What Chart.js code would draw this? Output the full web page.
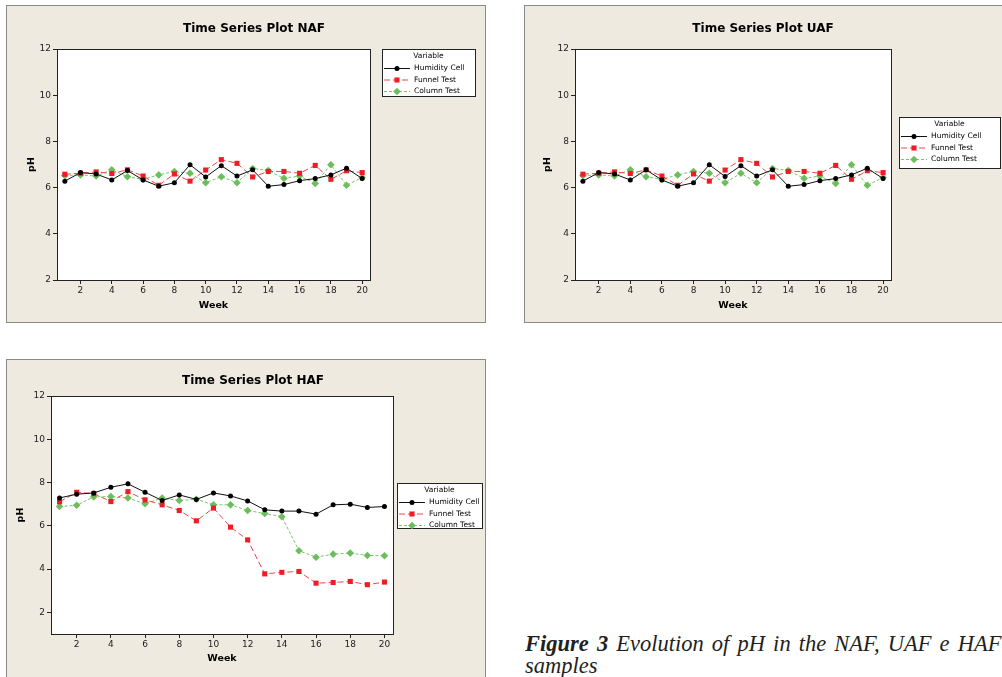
<!DOCTYPE html>
<html>
<head>
<meta charset="utf-8">
<title>Evolution of pH in the NAF, UAF and HAF samples</title>
<script src="https://cdn.jsdelivr.net/npm/chart.js@4.4.1/dist/chart.umd.min.js"></script>
<style>
  html, body { margin: 0; padding: 0; background: #fff; width: 1002px; height: 677px; overflow: hidden; position: relative; }
  canvas.panel { position: absolute; display: block; }
  #caption {
    position: absolute; left: 525px; top: 633px; width: 502px;
    font-family: "Liberation Serif", "DejaVu Serif", serif; font-style: italic;
    font-size: 22.5px; line-height: 22px; word-spacing: 2.5px; color: #231f20;
  }
  #caption b { font-weight: bold; }
</style>
</head>
<body>
<canvas id="naf" class="panel" width="480" height="318" style="left:6px;top:5px"></canvas>
<canvas id="uaf" class="panel" width="480" height="318" style="left:524px;top:5px"></canvas>
<canvas id="haf" class="panel" width="480" height="320" style="left:6px;top:359px"></canvas>
<div id="caption"><b>Figure 3</b> Evolution of pH in the NAF, UAF e HAF samples</div>

<script>
// Weeks on the x axis
const WEEKS = [1, 2, 3, 4, 5, 6, 7, 8, 9, 10, 11, 12, 13, 14, 15, 16, 17, 18, 19, 20];
const X_TICKS = [2, 4, 6, 8, 10, 12, 14, 16, 18, 20];
const Y_TICKS = [2, 4, 6, 8, 10, 12];
const SERIES_NAMES = ['Humidity Cell', 'Funnel Test', 'Column Test'];

// NAF
const NAF_HUMIDITY = [6.28, 6.65, 6.59, 6.33, 6.74, 6.33, 6.06, 6.21, 6.99, 6.46, 6.95, 6.50, 6.77, 6.06, 6.13, 6.30, 6.39, 6.55, 6.84, 6.39];
const NAF_FUNNEL = [6.58, 6.62, 6.68, 6.61, 6.77, 6.50, 6.10, 6.59, 6.28, 6.76, 7.21, 7.05, 6.46, 6.70, 6.70, 6.62, 6.96, 6.36, 6.73, 6.65];
const NAF_COLUMN = [6.52, 6.55, 6.50, 6.77, 6.47, 6.36, 6.55, 6.70, 6.62, 6.21, 6.47, 6.21, 6.83, 6.74, 6.40, 6.50, 6.18, 6.99, 6.10, 6.44];

// UAF
const UAF_HUMIDITY = [6.28, 6.65, 6.59, 6.33, 6.77, 6.33, 6.06, 6.21, 6.99, 6.48, 6.95, 6.50, 6.77, 6.06, 6.13, 6.30, 6.39, 6.55, 6.84, 6.39];
const UAF_FUNNEL = [6.58, 6.62, 6.68, 6.61, 6.77, 6.50, 6.10, 6.59, 6.28, 6.76, 7.21, 7.05, 6.46, 6.70, 6.70, 6.62, 6.96, 6.36, 6.73, 6.65];
const UAF_COLUMN = [6.52, 6.55, 6.50, 6.77, 6.47, 6.36, 6.55, 6.70, 6.62, 6.21, 6.62, 6.21, 6.83, 6.74, 6.40, 6.50, 6.18, 6.99, 6.10, 6.44];

// HAF
const HAF_HUMIDITY = [7.29, 7.46, 7.52, 7.78, 7.94, 7.55, 7.17, 7.43, 7.22, 7.52, 7.38, 7.15, 6.74, 6.68, 6.68, 6.54, 6.97, 7.00, 6.85, 6.89];
const HAF_FUNNEL = [7.11, 7.55, 7.49, 7.12, 7.58, 7.20, 6.97, 6.71, 6.23, 6.82, 5.94, 5.35, 3.78, 3.85, 3.89, 3.35, 3.38, 3.43, 3.28, 3.40];
const HAF_COLUMN = [6.89, 6.95, 7.34, 7.35, 7.29, 7.02, 7.28, 7.17, 7.23, 6.97, 6.97, 6.71, 6.57, 6.42, 4.85, 4.55, 4.69, 4.74, 4.63, 4.62];

const FONT = 'DejaVu Sans';

/**
 * Minitab-like panel: beige background, white plot frame, title and "Variable" legend
 */
const panelPlugin = {
  id: 'panel',
  beforeDraw(chart, args, opts) {
    const { ctx, width, height, chartArea: a } = chart;
    ctx.save();
    ctx.fillStyle = '#eeeae0';
    ctx.fillRect(0, 0, width, height);
    ctx.strokeStyle = '#8a8a8a';
    ctx.lineWidth = 1;
    ctx.strokeRect(0.5, 0.5, width - 1, height - 1);
    ctx.fillStyle = '#fff';
    ctx.fillRect(a.left, a.top, a.right - a.left, a.bottom - a.top);
    ctx.restore();
  },
  afterDraw(chart, args, opts) {
    const { ctx, chartArea: a } = chart;
    ctx.save();

    // plot frame
    ctx.strokeStyle = '#222';
    ctx.lineWidth = 1;
    ctx.strokeRect(Math.round(a.left) + 0.5, Math.round(a.top) + 0.5,
      Math.round(a.right - a.left), Math.round(a.bottom - a.top));

    // title
    ctx.fillStyle = '#000';
    ctx.font = 'bold 12px "' + FONT + '"';
    ctx.textAlign = 'center';
    ctx.textBaseline = 'middle';
    ctx.fillText(opts.title, opts.titleX, opts.titleY);

    // legend box
    const lg = opts.legend;
    ctx.fillStyle = '#fff';
    ctx.fillRect(lg.x, lg.y, lg.w, lg.h);
    ctx.strokeStyle = '#222';
    ctx.strokeRect(lg.x + 0.5, lg.y + 0.5, lg.w, lg.h);

    ctx.font = '7.5px "' + FONT + '"';
    ctx.fillStyle = '#000';
    ctx.fillText('Variable', lg.x + lg.w / 2, lg.y + 7.5);

    chart.data.datasets.forEach((ds, i) => {
      const cy = lg.y + 19.5 + i * 11.5;
      ctx.strokeStyle = ds.borderColor;
      ctx.lineWidth = 1;
      ctx.setLineDash(ds.borderDash || []);
      ctx.beginPath();
      ctx.moveTo(lg.x + 2, cy);
      ctx.lineTo(lg.x + 28, cy);
      ctx.stroke();
      ctx.setLineDash([]);
      ctx.fillStyle = ds.pointBackgroundColor;
      ctx.strokeStyle = ds.pointBackgroundColor;
      Chart.helpers.drawPoint(ctx, { pointStyle: ds.pointStyle, radius: ds.pointRadius, rotation: 0, borderWidth: 0 }, lg.x + 15, cy);
      ctx.fillStyle = '#000';
      ctx.textAlign = 'left';
      ctx.fillText(ds.label, lg.x + 32, cy);
    });

    ctx.restore();
  }
};

function makeDatasets(humidity, funnel, column) {
  return [
    {
      label: SERIES_NAMES[0],
      data: humidity,
      borderColor: '#111',
      borderWidth: 1,
      pointStyle: 'circle',
      pointRadius: 2.5,
      pointBackgroundColor: '#000',
      pointBorderWidth: 0
    },
    {
      label: SERIES_NAMES[1],
      data: funnel,
      borderColor: '#f04848',
      borderWidth: 1,
      borderDash: [6, 3],
      pointStyle: 'rect',
      pointRadius: 3.6,
      pointBackgroundColor: '#ee1c24',
      pointBorderWidth: 0
    },
    {
      label: SERIES_NAMES[2],
      data: column,
      borderColor: '#78c46a',
      borderWidth: 1,
      borderDash: [3, 2],
      pointStyle: 'rectRot',
      pointRadius: 3.8,
      pointBackgroundColor: '#6cbe5c',
      pointBorderWidth: 0
    }
  ];
}

/**
 * Build one time series panel
 */
function drawPanel(id, datasets, cfg) {
  const tickFont = { family: FONT, size: 9 };
  const titleFont = { family: FONT, size: 9.5, weight: 'bold' };

  return new Chart(document.getElementById(id), {
    type: 'line',
    data: { labels: WEEKS, datasets },
    options: {
      responsive: false,
      animation: false,
      events: [],
      layout: { padding: { left: 0, top: cfg.top, right: cfg.right, bottom: 0 } },
      plugins: {
        legend: { display: false },
        tooltip: { enabled: false },
        panel: { title: cfg.title, titleX: cfg.titleX, titleY: cfg.titleY, legend: cfg.legend }
      },
      scales: {
        x: {
          type: 'linear',
          min: 0.5,
          max: 20.5,
          afterBuildTicks: (scale) => { scale.ticks = X_TICKS.map(v => ({ value: v })); },
          afterFit: (scale) => { scale.height = cfg.xHeight; },
          ticks: { font: tickFont, color: '#222', padding: 1, autoSkip: false, maxRotation: 0 },
          grid: { drawOnChartArea: false, drawTicks: true, tickLength: 4, color: '#222' },
          border: { display: true, color: '#222' },
          title: { display: true, text: 'Week', font: titleFont, color: '#000', padding: { top: 0, bottom: cfg.weekPad } }
        },
        y: {
          min: cfg.yMin,
          max: 12,
          afterBuildTicks: (scale) => { scale.ticks = Y_TICKS.map(v => ({ value: v })); },
          afterFit: (scale) => { scale.width = cfg.yWidth; },
          ticks: { font: tickFont, color: '#222', padding: 2 },
          grid: { drawOnChartArea: false, drawTicks: true, tickLength: 4, color: '#222' },
          border: { display: true, color: '#222' },
          title: { display: true, text: 'pH', font: titleFont, color: '#000', padding: { top: cfg.phPad, bottom: 0 } }
        }
      }
    },
    plugins: [panelPlugin]
  });
}

document.addEventListener('DOMContentLoaded', () => {
  drawPanel('naf', makeDatasets(NAF_HUMIDITY, NAF_FUNNEL, NAF_COLUMN), {
    title: 'Time Series Plot NAF', titleX: 248, titleY: 24,
    top: 44, right: 116, yWidth: 51, xHeight: 43, yMin: 2, phPad: 19.6, weekPad: 11.6,
    legend: { x: 376, y: 44, w: 93, h: 47 }
  });

  drawPanel('uaf', makeDatasets(UAF_HUMIDITY, UAF_FUNNEL, UAF_COLUMN), {
    title: 'Time Series Plot UAF', titleX: 239, titleY: 24,
    top: 44, right: 113, yWidth: 51, xHeight: 43, yMin: 2, phPad: 17.6, weekPad: 11.6,
    legend: { x: 375, y: 112, w: 101, h: 51 }
  });

  drawPanel('haf', makeDatasets(HAF_HUMIDITY, HAF_FUNNEL, HAF_COLUMN), {
    title: 'Time Series Plot HAF', titleX: 247, titleY: 22,
    top: 37, right: 93, yWidth: 45, xHeight: 45, yMin: 1, phPad: 8.6, weekPad: 14.6,
    legend: { x: 391, y: 124, w: 85, h: 45 }
  });
});
</script>
</body>
</html>
